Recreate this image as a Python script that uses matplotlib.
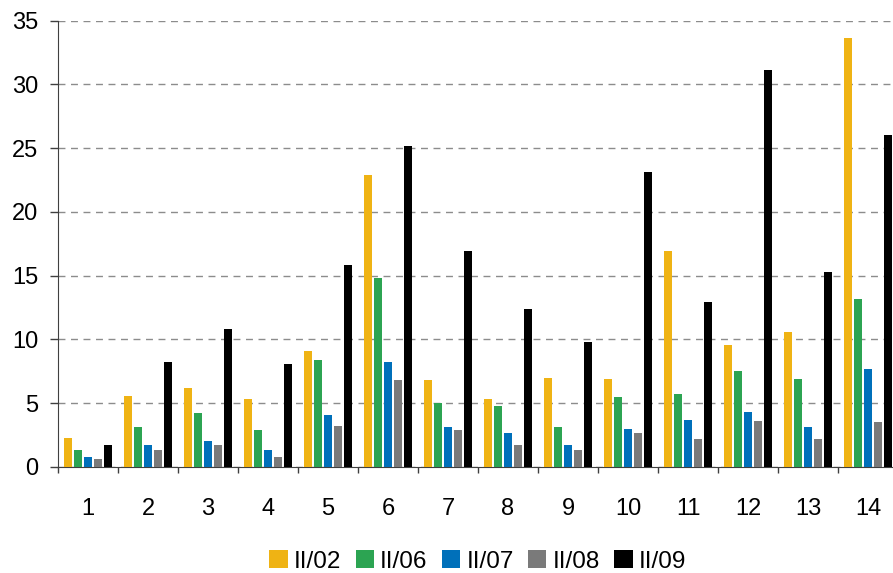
import numpy as np
import matplotlib.pyplot as plt

plt.rcParams['font.family'] = ['Liberation Sans', 'DejaVu Sans']

categories = [str(i) for i in range(1, 15)]
series_names = ['II/02', 'II/06', 'II/07', 'II/08', 'II/09']
ii02 = [2.3, 5.6, 6.2, 5.3, 9.1, 22.9, 6.8, 5.3, 7.0, 6.9, 16.9, 9.6, 10.6, 33.6]
ii06 = [1.3, 3.1, 4.2, 2.9, 8.4, 14.8, 5.0, 4.8, 3.1, 5.5, 5.7, 7.5, 6.9, 13.2]
ii07 = [0.8, 1.7, 2.0, 1.3, 4.1, 8.2, 3.1, 2.7, 1.7, 3.0, 3.7, 4.3, 3.1, 7.7]
ii08 = [0.6, 1.3, 1.7, 0.8, 3.2, 6.8, 2.9, 1.7, 1.3, 2.7, 2.2, 3.6, 2.2, 3.5]
ii09 = [1.7, 8.2, 10.8, 8.1, 15.8, 25.2, 16.9, 12.4, 9.8, 23.1, 12.9, 31.1, 15.3, 26.0]
colors = ['#EFB314', '#2CA452', '#0070BA', '#7A7A7A', '#000000']

fig = plt.figure(figsize=(8.93, 5.73), dpi=100)
ax = fig.add_axes([0.065, 0.185, 0.9406, 0.779])

x = np.arange(1, len(categories) + 1)
pitch = 1 / 6
for k, (vals, name) in enumerate(zip([ii02, ii06, ii07, ii08, ii09], series_names)):
    ax.bar(x + (k - 2) * pitch, vals, width=0.135, color=colors[k], label=name, zorder=3)

ax.set_xlim(0.5, 14.5)
ax.set_ylim(0, 35)
ax.set_yticks(range(0, 36, 5))
ax.set_xticks(x)
ax.set_xticklabels(categories)
ax.set_xticks(np.arange(0.5, 15, 1), minor=True)
ax.tick_params(axis='x', which='major', length=0, pad=22, labelsize=17)
ax.tick_params(axis='x', which='minor', length=4.3, width=1, color='#404040')
ax.tick_params(axis='y', length=5.8, width=1, color='#404040', pad=8.6, labelsize=17)

ax.yaxis.grid(True, linestyle=(0, (5, 4)), color='#8c8c8c', linewidth=1, zorder=0)
for s in ['top', 'right']:
    ax.spines[s].set_visible(False)
ax.spines['left'].set_color('#404040')
ax.spines['bottom'].set_color('#404040')

fig.legend(loc='center', bbox_to_anchor=(0.535, 0.02), ncol=5, frameon=False,
           fontsize=17.5, handlelength=0.75, handleheight=0.75, handletextpad=0.25,
           columnspacing=0.6)

fig.savefig('out.png', dpi=100)
